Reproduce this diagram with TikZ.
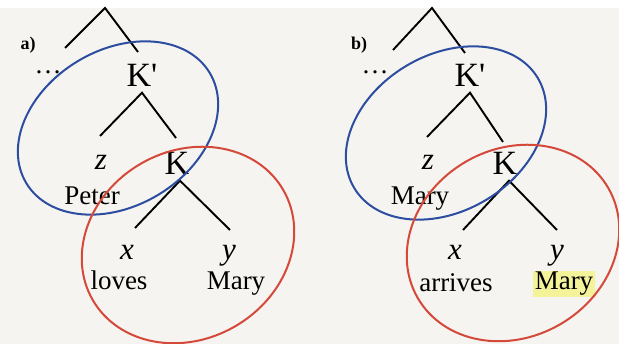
\documentclass[tikz,border=0pt]{standalone}
\usepackage{fontspec}
\setmainfont{Liberation Serif}
\definecolor{paper}{HTML}{F5F4F0}
\definecolor{ringblue}{HTML}{2C4DA0}
\definecolor{ringred}{HTML}{D4493A}
\definecolor{marker}{HTML}{F5F39A}
\tikzset{
  cat/.style={anchor=base, inner ysep=5.5pt, font=\fontsize{34}{34}\selectfont},
  var/.style={anchor=base, font=\fontsize{31}{31}\selectfont\itshape},
  word/.style={anchor=base, font=\fontsize{27}{27}\selectfont},
  tag/.style={font=\fontsize{18}{18}\selectfont\bfseries},
  branch/.style={line width=1.9pt},
  ring/.style={line width=2pt},
}
\begin{document}
\begin{tikzpicture}[x=1pt, y=1pt]
    \fill[paper] (0,0) rectangle (619,344);
    \fill[white] (0,336) rectangle (619,344);
    \useasboundingbox (0,0) rectangle (619,344);
    % panel a)
    \node[tag] (lab1) at (28,299) {a)};
    \node[word] (dots1) at (48,270) {\ldots};
    \coordinate (top1) at (105,336);
    \coordinate (top1-l) at (65,296);
    \coordinate (top1-r) at (138,292);
    \draw[branch] (top1-l) -- (top1) -- (top1-r);
    \node[cat] (kp1) at (142,257) {K\textquotesingle};
    \coordinate (kp1-l) at (100,208);
    \coordinate (kp1-r) at (176,206);
    \draw[branch] (kp1-l) -- (kp1.south) -- (kp1-r);
    \node[var] (z1) at (101,174) {z};
    \node[word] (zw1) at (92,139) {Peter};
    \node[cat] (k1) at (177,169) {K};
    \coordinate (k1-l) at (135,116);
    \coordinate (k1-r) at (230,114);
    \draw[branch] (k1-l) -- ([xshift=3pt]k1.south) -- (k1-r);
    \node[var] (x1) at (127,84) {x};
    \node[word] (xw1) at (119,54) {loves};
    \node[var] (y1) at (229,84) {y};
    \node[word] (yw1) at (236,54) {Mary};
    \draw[ringblue, ring, rotate around={31:(118,216)}] (118,216) ellipse [x radius=107, y radius=78];
    \draw[ringred, ring, rotate around={30:(188,99)}] (188,99) ellipse [x radius=110, y radius=94];
    % panel b)
    \node[tag] (lab2) at (359,299) {b)};
    \node[word] (dots2) at (375,270) {\ldots};
    \coordinate (top2) at (432,336);
    \coordinate (top2-l) at (393,294);
    \coordinate (top2-r) at (465,291);
    \draw[branch] (top2-l) -- (top2) -- (top2-r);
    \node[cat] (kp2) at (470,257) {K\textquotesingle};
    \coordinate (kp2-l) at (427,207);
    \coordinate (kp2-r) at (503,202);
    \draw[branch] (kp2-l) -- (kp2.south) -- (kp2-r);
    \node[var] (z2) at (428,174) {z};
    \node[word] (zw2) at (420,139) {Mary};
    \node[cat] (k2) at (505,169) {K};
    \coordinate (k2-l) at (463,114);
    \coordinate (k2-r) at (557,114);
    \draw[branch] (k2-l) -- ([xshift=4pt]k2.south) -- (k2-r);
    \node[var] (x2) at (455,84) {x};
    \node[word] (xw2) at (456,52) {arrives};
    \node[var] (y2) at (557,84) {y};
    \node[word, fill=marker, inner xsep=2pt, inner ysep=1.5pt] (yw2) at (564,54) {Mary};
    \draw[ringblue, ring, rotate around={31:(446,211)}] (446,211) ellipse [x radius=107, y radius=78];
    \draw[ringred, ring, rotate around={30:(513,101)}] (513,101) ellipse [x radius=110, y radius=94];
\end{tikzpicture}
\end{document}
